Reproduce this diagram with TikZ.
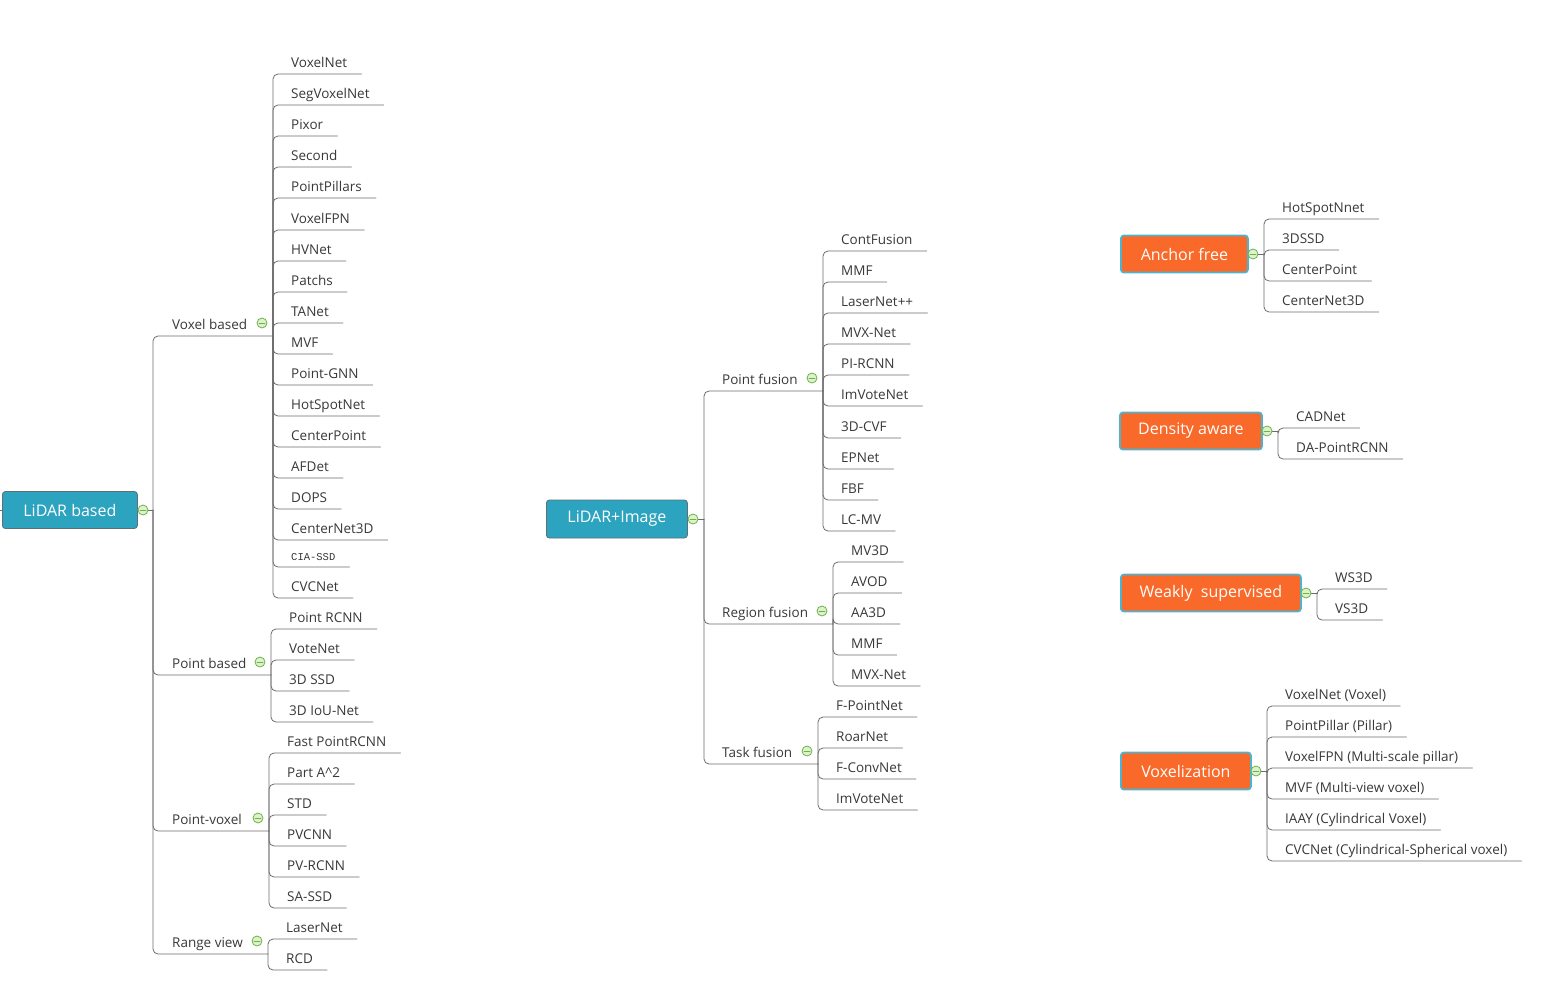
\documentclass[tikz,border=0pt]{standalone}
\usepackage{fontspec}
\setmainfont{Open Sans}
\setmonofont{Liberation Mono}
\usepackage{tikz}
\definecolor{boxteal}{HTML}{2CA3BF}
\definecolor{boxtealline}{HTML}{5F6F76}
\definecolor{boxorange}{HTML}{F8692A}
\definecolor{boxorangeline}{HTML}{4FB3CF}
\definecolor{linegray}{HTML}{6C6C6C}
\definecolor{leaftext}{HTML}{383838}
\definecolor{mkgreen}{HTML}{6DB344}
\definecolor{mkfill}{HTML}{DDF1CF}
\newcommand\ciassd{{\ttfamily\fontsize{10.5}{12}\selectfont CIA-SSD}}

\tikzset{
  topic/.style={rounded corners=3pt, minimum height=37pt, inner xsep=0pt, anchor=west,
                text=white, font=\fontsize{16}{19}\selectfont},
  lidar/.style={topic, fill=boxteal, draw=boxtealline, line width=0.8pt},
  aspect/.style={topic, fill=boxorange, draw=boxorangeline, line width=1.8pt},
  leaf/.style={inner xsep=2pt, inner ysep=0pt, text height=9pt, text depth=6pt,
               anchor=south west, text=leaftext, font=\fontsize{13.5}{16}\selectfont},
  branch/.style={draw=linegray, line width=0.8pt, rounded corners=5pt},
  collapse/.style={circle, draw=mkgreen, fill=mkfill, line width=0.8pt, inner sep=0pt,
                   minimum size=10pt,
                   path picture={\draw[mkgreen, line width=0.9pt]
                     ([xshift=-3pt]path picture bounding box.center) --
                     ([xshift=3pt]path picture bounding box.center);}}
}

\begin{document}
\begin{tikzpicture}[x=1pt, y=-1pt, line cap=round, line join=round]
  \useasboundingbox (0,0) rectangle (1561,988);

% LiDAR based
  \coordinate (lb-in) at (0,510);
  \node[lidar, minimum width=135pt] (lb) at (2,510) {LiDAR based};
  \coordinate (lb-j) at (153,510);
  \draw[branch] (lb-in) -- (lb.west);
  \draw[branch] (lb.east) -- (lb-j);
  \node[collapse] (lb-m) at (143,510) {};

  \foreach \g/\uy/\sx/\lab in {vb/336/273/Voxel based, pb/675/271/Point based,
                               pv/831/269/Point-voxel, rv/954/268/Range view}{
    \coordinate (\g-j) at (\sx,\uy);
    \node[leaf] (\g) at (170,\uy) {\lab};
    \draw[branch] (lb-j) |- (\g-j);
    \node[collapse] (\g-m) at (\sx-11,\uy-13) {};
  }

  \foreach \uy/\lab [count=\i] in {74/VoxelNet, 105/SegVoxelNet, 136/Pixor, 167/Second,
      198/PointPillars, 230/VoxelFPN, 261/HVNet, 292/Patchs, 323/TANet, 354/MVF,
      385/Point-GNN, 416/HotSpotNet, 447/CenterPoint, 478/AFDet, 509/DOPS,
      540/CenterNet3D, 567/\ciassd, 598/CVCNet}{
    \node[leaf] (vb\i) at (289,\uy) {\lab};
    \draw[branch] (vb-j) |- ([xshift=12pt]vb\i.south east);
  }
  \foreach \uy/\lab [count=\i] in {629/Point RCNN, 660/VoteNet, 691/3D SSD, 722/3D IoU-Net}{
    \node[leaf] (pb\i) at (287,\uy) {\lab};
    \draw[branch] (pb-j) |- ([xshift=12pt]pb\i.south east);
  }
  \foreach \uy/\lab [count=\i] in {753/Fast PointRCNN, 784/Part A\textasciicircum{}2, 815/STD,
      846/PVCNN, 877/PV-RCNN, 908/SA-SSD}{
    \node[leaf] (pv\i) at (285,\uy) {\lab};
    \draw[branch] (pv-j) |- ([xshift=12pt]pv\i.south east);
  }
  \foreach \uy/\lab [count=\i] in {939/LaserNet, 970/RCD}{
    \node[leaf] (rv\i) at (284,\uy) {\lab};
    \draw[branch] (rv-j) |- ([xshift=12pt]rv\i.south east);
  }

% LiDAR+Image
  \node[lidar, minimum width=141pt, minimum height=38pt] (li) at (546,519) {LiDAR+Image};
  \coordinate (li-j) at (704,519);
  \draw[branch] (li.east) -- (li-j);
  \node[collapse] (li-m) at (693,519) {};

  \foreach \g/\uy/\sx/\lab in {pf/391/823/Point fusion, rf/624/833/Region fusion,
                               tf/764/818/Task fusion}{
    \coordinate (\g-j) at (\sx,\uy);
    \node[leaf] (\g) at (720,\uy) {\lab};
    \draw[branch] (li-j) |- (\g-j);
    \node[collapse] (\g-m) at (\sx-11,\uy-13) {};
  }

  \foreach \uy/\lab [count=\i] in {251/ContFusion, 282/MMF, 313/LaserNet++, 344/MVX-Net,
      375/PI-RCNN, 406/ImVoteNet, 438/3D-CVF, 469/EPNet, 500/FBF, 531/LC-MV}{
    \node[leaf] (pf\i) at (839,\uy) {\lab};
    \draw[branch] (pf-j) |- ([xshift=12pt]pf\i.south east);
  }
  \foreach \uy/\lab [count=\i] in {562/MV3D, 593/AVOD, 624/AA3D, 655/MMF, 686/MVX-Net}{
    \node[leaf] (rf\i) at (849,\uy) {\lab};
    \draw[branch] (rf-j) |- ([xshift=12pt]rf\i.south east);
  }
  \foreach \uy/\lab [count=\i] in {717/F-PointNet, 748/RoarNet, 779/F-ConvNet, 810/ImVoteNet}{
    \node[leaf] (tf\i) at (834,\uy) {\lab};
    \draw[branch] (tf-j) |- ([xshift=12pt]tf\i.south east);
  }

% sub-topics on the right
  \foreach \g/\y/\x/\w/\sx/\lab in {af/254/1120/127/1264/Anchor free,
                                    da/431/1119/142/1278/Density aware,
                                    ws/593/1120/180/1317/Weakly~ supervised,
                                    vx/771/1120/130/1267/Voxelization}{
    \node[aspect, minimum width=\w pt] (\g) at (\x,\y) {\lab};
    \coordinate (\g-j) at (\sx,\y);
    \draw[branch] (\g.east) -- (\g-j);
    \node[collapse] (\g-m) at (\sx-11,\y) {};
  }

  \foreach \uy/\lab [count=\i] in {219/HotSpotNnet, 250/3DSSD, 281/CenterPoint, 312/CenterNet3D}{
    \node[leaf] (af\i) at (1280,\uy) {\lab};
    \draw[branch] (af-j) |- ([xshift=12pt]af\i.south east);
  }
  \foreach \uy/\lab [count=\i] in {428/CADNet, 459/DA-PointRCNN}{
    \node[leaf] (da\i) at (1294,\uy) {\lab};
    \draw[branch] (da-j) |- ([xshift=12pt]da\i.south east);
  }
  \foreach \uy/\lab [count=\i] in {589/WS3D, 620/VS3D}{
    \node[leaf] (ws\i) at (1333,\uy) {\lab};
    \draw[branch] (ws-j) |- ([xshift=12pt]ws\i.south east);
  }
  \foreach \uy/\lab [count=\i] in {706/VoxelNet (Voxel), 737/PointPillar (Pillar),
      768/VoxelFPN (Multi-scale pillar), 799/MVF (Multi-view voxel),
      830/IAAY (Cylindrical Voxel), 861/CVCNet (Cylindrical-Spherical voxel)}{
    \node[leaf] (vx\i) at (1283,\uy) {\lab};
    \draw[branch] (vx-j) |- ([xshift=12pt]vx\i.south east);
  }
\end{tikzpicture}
\end{document}
